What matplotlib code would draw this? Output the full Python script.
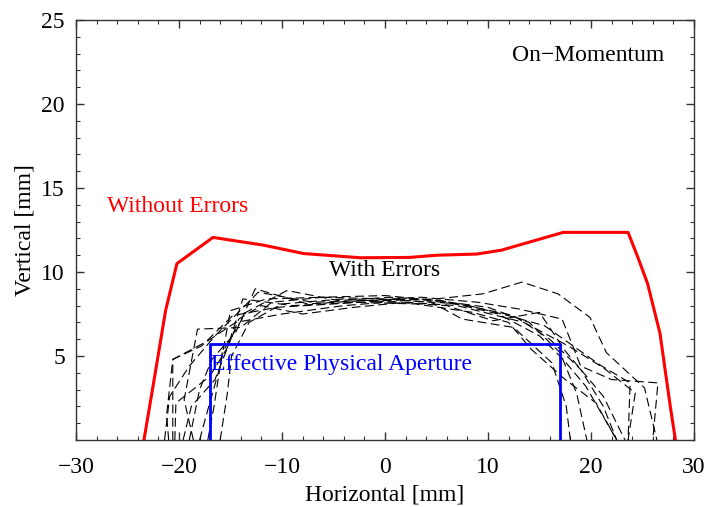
import matplotlib
matplotlib.use("Agg")
import matplotlib.pyplot as plt
from matplotlib.ticker import MultipleLocator

plt.rcParams["font.family"] = ["Liberation Serif", "DejaVu Serif"]

# aperture without errors
red_x = [-23.4, -22.3, -21.3, -20.2, -16.7, -11.8, -7.9, -2.4, 2.4, 5.0, 8.9, 11.3, 17.3, 23.6, 24.6, 25.5, 26.7, 27.7, 28.2]
red_y = [0.0, 4.0, 7.7, 10.5, 12.06, 11.6, 11.1, 10.85, 10.87, 11.0, 11.07, 11.3, 12.36, 12.36, 10.8, 9.3, 6.35, 2.0, 0.0]

# effective physical aperture
phys_x = [-17.0, -17.0, 17.0, 17.0]
phys_y = [0.0, 5.7, 5.7, 0.0]

# apertures with errors (one per seed)
s1_x = [-21.4, -20.9, -19.0, -16.5, -12.3, -7.0, -2.0, 3.0, 8.0, 12.5, 16.0, 19.0, 21.2, 22.5]
s1_y = [0.0, 2.6, 4.4, 6.2, 8.8, 8.2, 8.3, 8.4, 8.0, 7.4, 6.0, 4.2, 2.0, 0.0]
s2_x = [-20.6, -20.6, -17.8, -14.8, -10.5, -5.0, 0.0, 5.0, 9.5, 13.3, 16.8, 19.9, 21.5, 25.2, 26.4]
s2_y = [0.0, 4.8, 5.6, 7.4, 7.9, 8.1, 8.3, 8.4, 8.7, 9.4, 8.7, 7.3, 5.2, 3.1, 0.0]
s3_x = [-18.6, -19.5, -18.2, -14.0, -11.0, -6.0, 0.0, 5.0, 10.0, 14.0, 17.0, 18.6, 19.6]
s3_y = [0.0, 2.4, 6.6, 6.7, 8.2, 8.5, 8.6, 8.3, 7.9, 7.0, 5.2, 2.8, 0.0]
s4_x = [-20.4, -20.3, -17.0, -15.3, -13.8, -9.0, -3.0, 3.0, 8.5, 12.0, 14.2, 17.5, 20.5, 22.5]
s4_y = [0.0, 2.2, 3.8, 5.5, 8.4, 8.0, 8.2, 8.1, 7.6, 7.0, 5.4, 3.6, 2.2, 0.0]
s5_x = [-16.0, -15.3, -14.9, -13.2, -10.0, -4.0, 1.0, 6.0, 10.5, 15.0, 17.5, 21.2, 23.3]
s5_y = [0.0, 2.8, 5.0, 7.0, 8.1, 8.4, 8.2, 8.0, 7.1, 7.6, 5.3, 2.6, 0.0]
s6_x = [-18.0, -17.2, -16.0, -15.0, -11.5, -6.0, 0.0, 4.5, 7.5, 12.5, 16.2, 17.6, 18.0]
s6_y = [0.0, 1.8, 4.4, 7.7, 8.4, 8.5, 8.4, 8.2, 7.2, 6.7, 4.6, 2.0, 0.0]
s7_x = [-19.6, -18.8, -16.5, -14.2, -12.0, -8.0, -3.0, 2.0, 7.0, 13.5, 17.8, 21.2, 24.3, 23.6]
s7_y = [0.0, 2.0, 3.6, 7.2, 8.0, 7.5, 7.9, 8.2, 8.0, 7.0, 5.6, 4.3, 2.8, 0.0]
s8_x = [-17.2, -16.6, -15.8, -13.5, -9.5, -4.5, 0.5, 5.5, 11.0, 15.0, 17.3, 19.5, 21.0, 22.5]
s8_y = [0.0, 2.0, 5.2, 7.6, 8.9, 8.3, 8.5, 8.3, 7.5, 6.2, 4.8, 3.2, 1.6, 0.0]
s9_x = [-21.0, -21.2, -20.6, -17.2, -14.5, -10.0, -4.0, 2.0, 7.5, 12.0, 15.5, 20.8, 23.8, 23.6]
s9_y = [0.0, 1.5, 4.8, 5.9, 7.0, 7.5, 8.0, 8.3, 8.1, 7.4, 6.8, 4.5, 3.4, 0.0]
s10_x = [-19.0, -18.0, -16.8, -14.5, -12.6, -7.5, -2.0, 3.5, 9.0, 13.0, 17.2, 19.0, 22.0, 26.5, 26.0]
s10_y = [0.0, 3.0, 4.8, 6.4, 9.0, 8.1, 8.3, 8.5, 8.2, 7.8, 7.2, 4.4, 3.6, 3.4, 0.0]

seeds = [(s1_x, s1_y), (s2_x, s2_y), (s3_x, s3_y), (s4_x, s4_y), (s5_x, s5_y),
         (s6_x, s6_y), (s7_x, s7_y), (s8_x, s8_y), (s9_x, s9_y), (s10_x, s10_y)]

fig = plt.figure(figsize=(7.08, 5.07), dpi=100)
ax = fig.add_axes([0.1073, 0.1321, 0.8729, 0.8284])

for sx, sy in seeds:
    ax.plot(sx, sy, color="black", linewidth=0.8, dashes=(8, 4))

ax.plot(red_x, red_y, color="#ff0000", linewidth=2.2)
ax.plot(phys_x, phys_y, color="#0000ff", linewidth=2.0)

fs = 17
ax.text(19.7, 22.9, "On\u2212Momentum", fontsize=fs, ha="center", va="center", color="black")
ax.text(-20.1, 13.9, "Without Errors", fontsize=fs, ha="center", va="center", color="#ff0000")
ax.text(0.0, 10.1, "With Errors", fontsize=fs, ha="center", va="center", color="black")
ax.text(-4.2, 4.5, "Effective Physical Aperture", fontsize=fs, ha="center", va="center", color="#0000ff")

ax.set_xlim(-30, 30)
ax.set_ylim(0, 25)
ax.set_xticks([-30, -20, -10, 0, 10, 20, 30])
ax.set_yticks([5, 10, 15, 20, 25])
ax.xaxis.set_minor_locator(MultipleLocator(2))
ax.yaxis.set_minor_locator(MultipleLocator(1))
ax.tick_params(which="both", direction="in", top=True, right=True, labelsize=fs, color="#333333")
ax.tick_params(which="major", length=6, width=1)
ax.tick_params(which="minor", length=3, width=0.8)
ax.tick_params(axis="x", which="major", pad=12)
ax.tick_params(axis="y", which="major", pad=8)
for sp in ax.spines.values():
    sp.set_color("#333333")
    sp.set_linewidth(1.0)

ax.set_xlabel("Horizontal [mm]", fontsize=fs, labelpad=5)
ax.set_ylabel("Vertical [mm]", fontsize=fs, labelpad=4)

fig.savefig("out.png", dpi=100)
